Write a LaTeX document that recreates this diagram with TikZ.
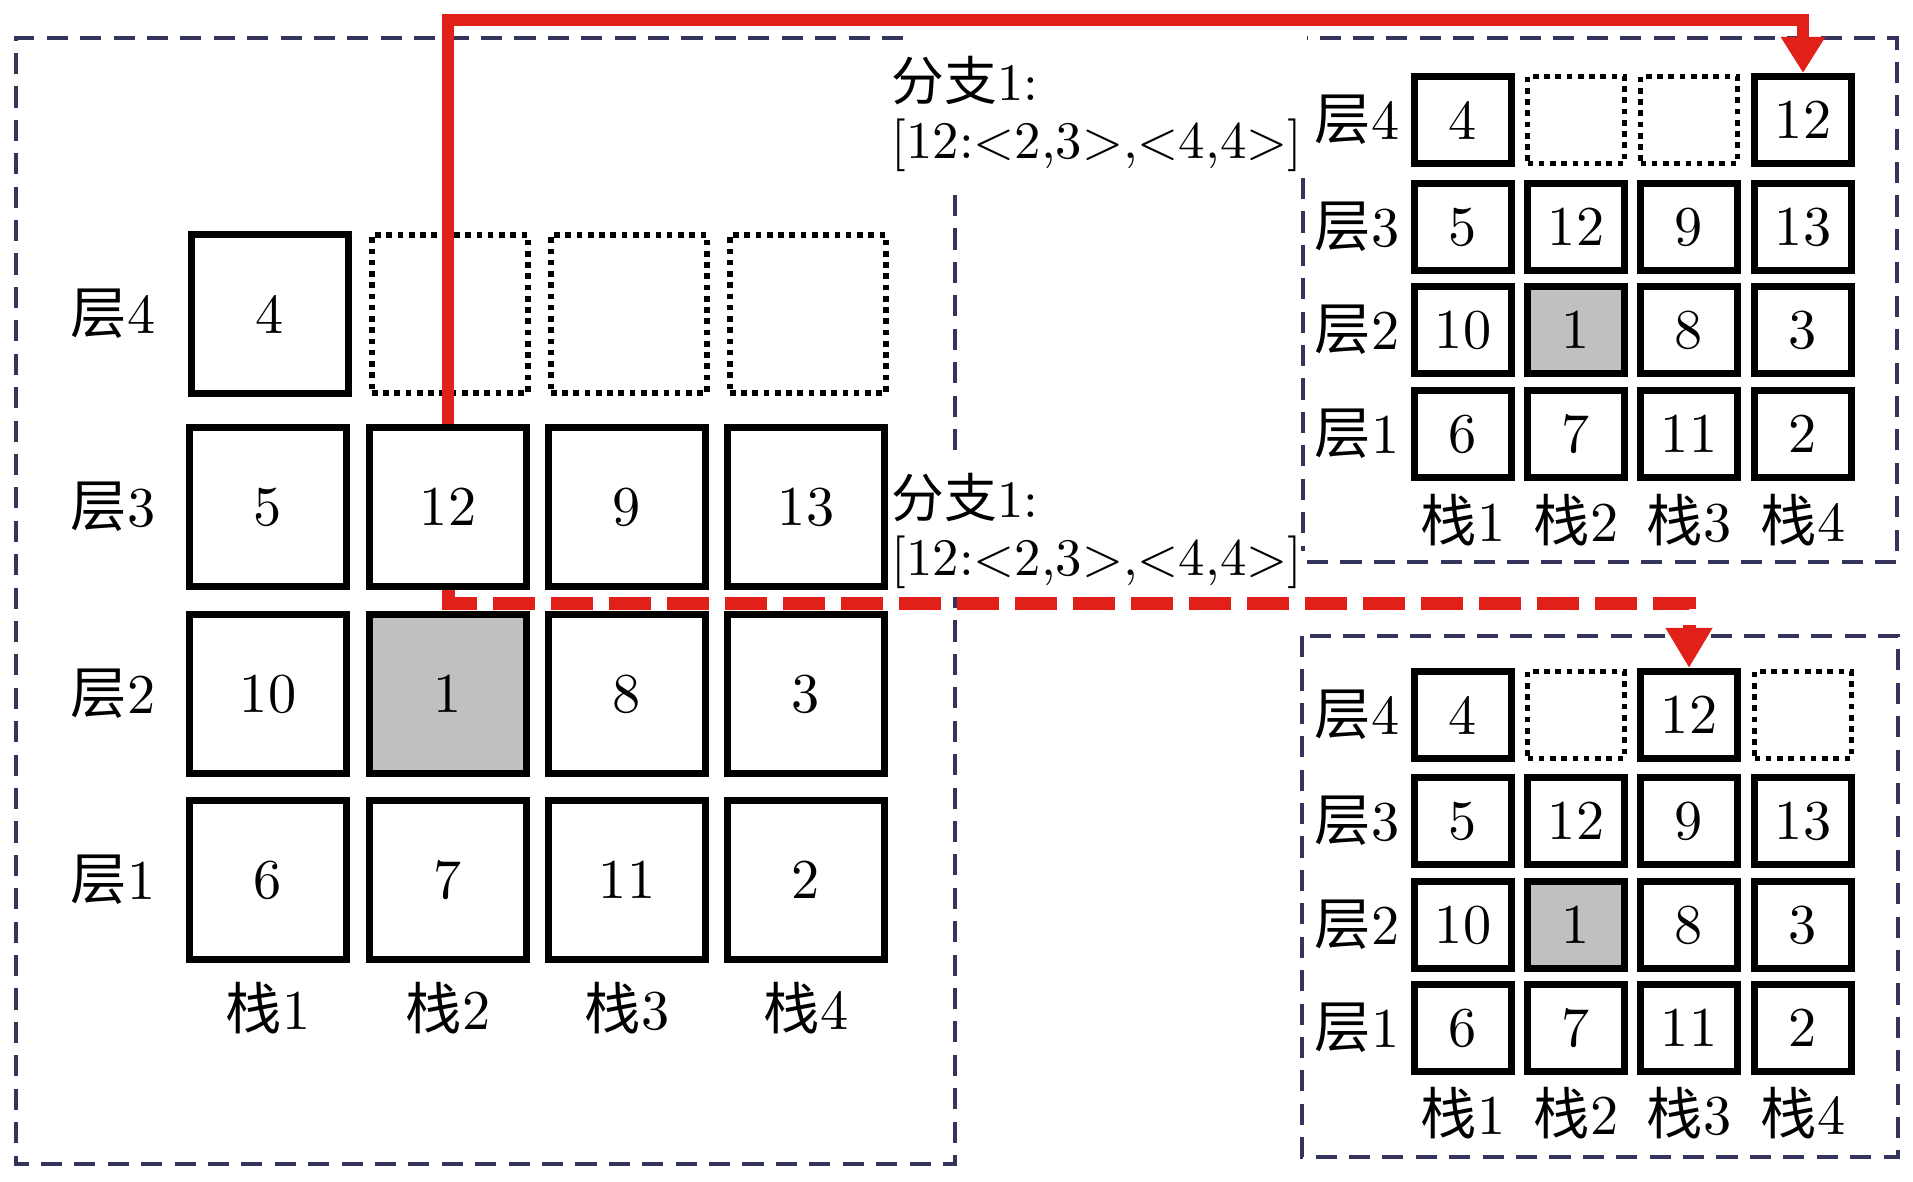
\documentclass[tikz,border=0pt]{standalone}
\usepackage{fontspec}
\setmainfont{lmroman10-regular.otf}
\newfontfamily\cjk{Noto Sans CJK SC}
\usetikzlibrary{arrows.meta}
\definecolor{boxnavy}{RGB}{52,52,92}
\definecolor{arrred}{RGB}{226,32,26}
\definecolor{cellgray}{RGB}{192,192,192}
\tikzset{
  cellbase/.style={draw=black, line width=0.07cm, inner sep=0pt, font=\fontsize{16}{17}\selectfont},
  bigcell/.style={cellbase, minimum width=1.56cm, minimum height=1.58cm},
  smallcell/.style={cellbase, minimum width=0.97cm, minimum height=0.87cm},
  emptycell/.style={line width=0.055cm, dash pattern=on 1.6pt off 1.6pt},
  graycell/.style={fill=cellgray},
  tag/.style={inner sep=0pt, font=\fontsize{16}{17}\selectfont},
  lbl/.style={inner sep=0pt, align=left, font=\fontsize{15}{16.5}\selectfont},
  boxline/.style={draw=boxnavy, line width=1.1pt, dash pattern=on 6pt off 3.5pt},
  redsolid/.style={draw=arrred, line width=0.12cm, -{Triangle[length=0.36cm,width=0.42cm]}},
  reddash/.style={draw=arrred, line width=0.13cm, dash pattern=on 0.42cm off 0.16cm, -{Triangle[length=0.40cm,width=0.44cm]}}
}
\begin{document}
\begin{tikzpicture}[x=0.01cm, y=-0.01cm]
\useasboundingbox (0,0) rectangle (1913,1181);

% dashed frames
\draw[boxline] (903,38) -- (16,38) -- (16,1164) -- (955,1164) -- (955,597);
\draw[boxline] (955,450) -- (955,189);
\draw[boxline] (1303,178) -- (1303,551);
\draw[boxline] (1307,562) -- (1897,562) -- (1897,38) -- (1307,38);
\draw[boxline] (1302,636) rectangle (1898,1157);

% left grid
\node[bigcell] (A-4-1) at (270,314) {4};
\node[bigcell,emptycell] (A-4-2) at (450,314) {};
\node[bigcell,emptycell] (A-4-3) at (629,314) {};
\node[bigcell,emptycell] (A-4-4) at (808,314) {};
\node[bigcell] (A-3-1) at (268,507) {5};
\node[bigcell] (A-3-2) at (448,507) {12};
\node[bigcell] (A-3-3) at (627,507) {9};
\node[bigcell] (A-3-4) at (806,507) {13};
\node[bigcell] (A-2-1) at (268,694) {10};
\node[bigcell,graycell] (A-2-2) at (448,694) {1};
\node[bigcell] (A-2-3) at (627,694) {8};
\node[bigcell] (A-2-4) at (806,694) {3};
\node[bigcell] (A-1-1) at (268,880) {6};
\node[bigcell] (A-1-2) at (448,880) {7};
\node[bigcell] (A-1-3) at (627,880) {11};
\node[bigcell] (A-1-4) at (806,880) {2};
\node[tag] (AL4) at (113,314) {{\cjk 层}4};
\node[tag] (AL3) at (113,507) {{\cjk 层}3};
\node[tag] (AL2) at (113,694) {{\cjk 层}2};
\node[tag] (AL1) at (113,880) {{\cjk 层}1};
\node[tag] (AS1) at (268,1008) {{\cjk 栈}1};
\node[tag] (AS2) at (448,1008) {{\cjk 栈}2};
\node[tag] (AS3) at (627,1008) {{\cjk 栈}3};
\node[tag] (AS4) at (806,1008) {{\cjk 栈}4};

% top-right grid
\node[smallcell] (T-4-1) at (1463,120) {4};
\node[smallcell,emptycell] (T-4-2) at (1576,120) {};
\node[smallcell,emptycell] (T-4-3) at (1689,120) {};
\node[smallcell] (T-4-4) at (1803,120) {12};
\node[smallcell] (T-3-1) at (1463,227) {5};
\node[smallcell] (T-3-2) at (1576,227) {12};
\node[smallcell] (T-3-3) at (1689,227) {9};
\node[smallcell] (T-3-4) at (1803,227) {13};
\node[smallcell] (T-2-1) at (1463,330) {10};
\node[smallcell,graycell] (T-2-2) at (1576,330) {1};
\node[smallcell] (T-2-3) at (1689,330) {8};
\node[smallcell] (T-2-4) at (1803,330) {3};
\node[smallcell] (T-1-1) at (1463,434) {6};
\node[smallcell] (T-1-2) at (1576,434) {7};
\node[smallcell] (T-1-3) at (1689,434) {11};
\node[smallcell] (T-1-4) at (1803,434) {2};
\node[tag] (TL4) at (1357,120) {{\cjk 层}4};
\node[tag] (TL3) at (1357,227) {{\cjk 层}3};
\node[tag] (TL2) at (1357,330) {{\cjk 层}2};
\node[tag] (TL1) at (1357,434) {{\cjk 层}1};
\node[tag] (TS1) at (1463,520) {{\cjk 栈}1};
\node[tag] (TS2) at (1576,520) {{\cjk 栈}2};
\node[tag] (TS3) at (1689,520) {{\cjk 栈}3};
\node[tag] (TS4) at (1803,520) {{\cjk 栈}4};

% bottom-right grid
\node[smallcell] (B-4-1) at (1463,715) {4};
\node[smallcell,emptycell] (B-4-2) at (1576,715) {};
\node[smallcell] (B-4-3) at (1689,715) {12};
\node[smallcell,emptycell] (B-4-4) at (1803,715) {};
\node[smallcell] (B-3-1) at (1463,821) {5};
\node[smallcell] (B-3-2) at (1576,821) {12};
\node[smallcell] (B-3-3) at (1689,821) {9};
\node[smallcell] (B-3-4) at (1803,821) {13};
\node[smallcell] (B-2-1) at (1463,925) {10};
\node[smallcell,graycell] (B-2-2) at (1576,925) {1};
\node[smallcell] (B-2-3) at (1689,925) {8};
\node[smallcell] (B-2-4) at (1803,925) {3};
\node[smallcell] (B-1-1) at (1463,1028) {6};
\node[smallcell] (B-1-2) at (1576,1028) {7};
\node[smallcell] (B-1-3) at (1689,1028) {11};
\node[smallcell] (B-1-4) at (1803,1028) {2};
\node[tag] (BL4) at (1357,715) {{\cjk 层}4};
\node[tag] (BL3) at (1357,821) {{\cjk 层}3};
\node[tag] (BL2) at (1357,925) {{\cjk 层}2};
\node[tag] (BL1) at (1357,1028) {{\cjk 层}1};
\node[tag] (BS1) at (1463,1113) {{\cjk 栈}1};
\node[tag] (BS2) at (1576,1113) {{\cjk 栈}2};
\node[tag] (BS3) at (1689,1113) {{\cjk 栈}3};
\node[tag] (BS4) at (1803,1113) {{\cjk 栈}4};

% branch labels
\node[lbl, anchor=north west] (lab1) at (891,55) {{\cjk 分支}1:\\{[}12:<2,3>,<4,4>{]}};
\node[lbl, anchor=north west] (lab2) at (891,472) {{\cjk 分支}1:\\{[}12:<2,3>,<4,4>{]}};

% red connectors
\coordinate (topturn) at (0,20);
\coordinate (dashturn) at (0,603);
\draw[redsolid] (A-3-2.north) -- (A-3-2.north |- topturn) -| (T-4-4.north);
\draw[reddash] (A-3-2.south) -- (A-3-2.south |- dashturn) -| (B-4-3.north);
\end{tikzpicture}
\end{document}
